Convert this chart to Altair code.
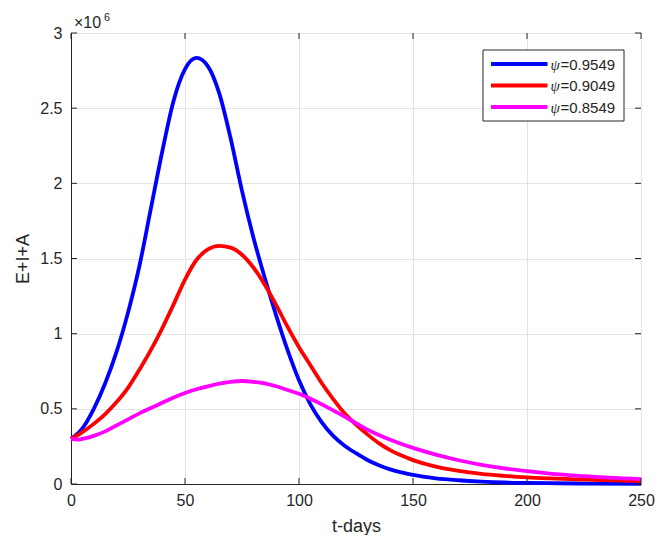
import altair as alt
import pandas as pd

# ---- data (values in millions) ----
t_blue = [0, 5, 10, 15, 20, 25, 30, 35, 40, 45, 50, 55, 60, 65, 70, 75, 80, 85, 90, 95,
          100, 105, 110, 115, 120, 125, 130, 135, 140, 145, 150, 160, 170, 180, 190, 200, 225, 250]
v_blue = [0.30, 0.37, 0.50, 0.67, 0.88, 1.14, 1.45, 1.83, 2.21, 2.55, 2.76, 2.834, 2.78, 2.60,
          2.30, 1.95, 1.64, 1.37, 1.12, 0.89, 0.69, 0.53, 0.41, 0.32, 0.255, 0.205, 0.16,
          0.125, 0.097, 0.077, 0.06, 0.038, 0.025, 0.016, 0.010, 0.007, 0.003, 0.001]

t_red = [0, 5, 10, 15, 20, 25, 30, 35, 40, 45, 50, 55, 60, 65, 70, 75, 80, 85, 90, 95,
         100, 105, 110, 115, 120, 125, 130, 135, 140, 145, 150, 160, 170, 180, 190, 200, 210, 225, 250]
v_red = [0.30, 0.345, 0.40, 0.465, 0.545, 0.64, 0.76, 0.89, 1.035, 1.195, 1.36, 1.49, 1.56, 1.584,
         1.572, 1.525, 1.44, 1.325, 1.19, 1.045, 0.91, 0.79, 0.67, 0.565, 0.47, 0.395, 0.33,
         0.272, 0.225, 0.189, 0.159, 0.115, 0.087, 0.067, 0.054, 0.044, 0.037, 0.029, 0.02]

t_mag = [0, 3, 5, 10, 15, 20, 25, 30, 35, 40, 45, 50, 55, 60, 65, 70, 75, 80, 85, 90, 95,
         100, 105, 110, 115, 120, 125, 130, 135, 140, 145, 150, 160, 170, 180, 190, 200, 210, 225, 250]
v_mag = [0.30, 0.295, 0.30, 0.32, 0.35, 0.39, 0.43, 0.47, 0.505, 0.54, 0.575, 0.605, 0.63,
         0.65, 0.668, 0.68, 0.685, 0.68, 0.67, 0.65, 0.625, 0.60, 0.567, 0.53, 0.49, 0.448,
         0.405, 0.362, 0.326, 0.294, 0.266, 0.24, 0.195, 0.158, 0.128, 0.104, 0.085, 0.069,
         0.052, 0.032]

psi_values = ["0.9549", "0.9049", "0.8549"]
labels = ["ψ=" + p for p in psi_values]
colors = ["#0000ff", "#ff0000", "#ff00ff"]

x_ticks = [0, 50, 100, 150, 200, 250]
y_ticks = [0, 0.5, 1, 1.5, 2, 2.5, 3]

rows = []
for i, (ts, vs) in enumerate([(t_blue, v_blue), (t_red, v_red), (t_mag, v_mag)]):
    for t, v in zip(ts, vs):
        rows.append({"t": t, "v": v, "series": labels[i], "ord": i})
df = pd.DataFrame(rows)

FONT = "Liberation Sans"
AX = "#262626"
W, H = 570, 451

xscale = alt.Scale(domain=[0, 250], nice=False, zero=False)
yscale = alt.Scale(domain=[0, 3], nice=False)

lines = alt.Chart(df).mark_line(strokeWidth=3.8, interpolate="monotone").encode(
    x=alt.X("t:Q", scale=xscale,
            axis=alt.Axis(values=x_ticks, title="t-days", tickSize=0, labelPadding=8,
                          titlePadding=9, grid=True, format="d", labelFlush=False)),
    y=alt.Y("v:Q", scale=yscale,
            axis=alt.Axis(values=y_ticks, title="E+I+A", tickSize=0, labelPadding=9,
                          titlePadding=7, grid=True, format="~g")),
    color=alt.Color("series:N", scale=alt.Scale(domain=labels, range=colors), legend=None),
    order=alt.Order("ord:Q"),
    detail="series:N",
)

xt = pd.DataFrame({"t": x_ticks})
yt = pd.DataFrame({"v": y_ticks})
tick_b = alt.Chart(xt).mark_rule(color=AX, strokeWidth=1).encode(
    x=alt.X("t:Q", scale=xscale), y=alt.value(H), y2=alt.value(H - 6))
tick_t = alt.Chart(xt).mark_rule(color=AX, strokeWidth=1).encode(
    x=alt.X("t:Q", scale=xscale), y=alt.value(0), y2=alt.value(6))
tick_l = alt.Chart(yt).mark_rule(color=AX, strokeWidth=1).encode(
    y=alt.Y("v:Q", scale=yscale), x=alt.value(0), x2=alt.value(6))
tick_r = alt.Chart(yt).mark_rule(color=AX, strokeWidth=1).encode(
    y=alt.Y("v:Q", scale=yscale), x=alt.value(W), x2=alt.value(W - 6))

exp_base = alt.Chart(pd.DataFrame({"s": ["×10"]})).mark_text(
    align="left", baseline="alphabetic", fontSize=16, font=FONT, color=AX).encode(
    x=alt.value(3), y=alt.value(-5), text="s:N")
exp_pow = alt.Chart(pd.DataFrame({"s": ["6"]})).mark_text(
    align="left", baseline="alphabetic", fontSize=11, font=FONT, color=AX).encode(
    x=alt.value(33), y=alt.value(-12), text="s:N")

# ---- legend (manual, MATLAB style) ----
LX0, LX1, LY0, LY1 = 412, 553, 17, 88
row_y = [31, 52.5, 74]
leg_layers = [
    alt.Chart(pd.DataFrame({"k": [0]})).mark_rect(
        fill="white", stroke=AX, strokeWidth=1).encode(
        x=alt.value(LX0), x2=alt.value(LX1), y=alt.value(LY0), y2=alt.value(LY1))
]
for i in range(3):
    d = pd.DataFrame({"series": [labels[i]], "psi": ["ψ"], "val": ["=" + psi_values[i]]})
    leg_layers.append(alt.Chart(d).mark_rule(strokeWidth=3.8, color=colors[i]).encode(
        x=alt.value(420), x2=alt.value(476.5), y=alt.value(row_y[i])))
    leg_layers.append(alt.Chart(d).mark_text(
        align="left", baseline="alphabetic", fontSize=15, font="Liberation Serif",
        fontStyle="italic", color=AX).encode(
        x=alt.value(479.5), y=alt.value(row_y[i] + 5.5), text="psi:N"))
    leg_layers.append(alt.Chart(d).mark_text(
        align="left", baseline="alphabetic", fontSize=15, font=FONT, color=AX).encode(
        x=alt.value(489.5), y=alt.value(row_y[i] + 5.5), text="val:N"))

chart = alt.layer(lines, tick_b, tick_t, tick_l, tick_r, exp_base, exp_pow,
                  *leg_layers).properties(
    width=W, height=H,
    autosize=alt.AutoSizeParams(type="none"),
    padding={"left": 63, "top": 25, "right": 23, "bottom": 51},
    background="white",
).configure_view(
    stroke=AX, strokeWidth=1
).configure_axis(
    domainColor=AX, domainWidth=1, gridColor="#e3e3e3", gridWidth=1,
    labelFont=FONT, labelFontSize=16, labelColor=AX,
    titleFont=FONT, titleFontSize=18, titleColor=AX, titleFontWeight="normal",
)

chart.save("out.html", embed_options={"renderer": "svg", "actions": False})
